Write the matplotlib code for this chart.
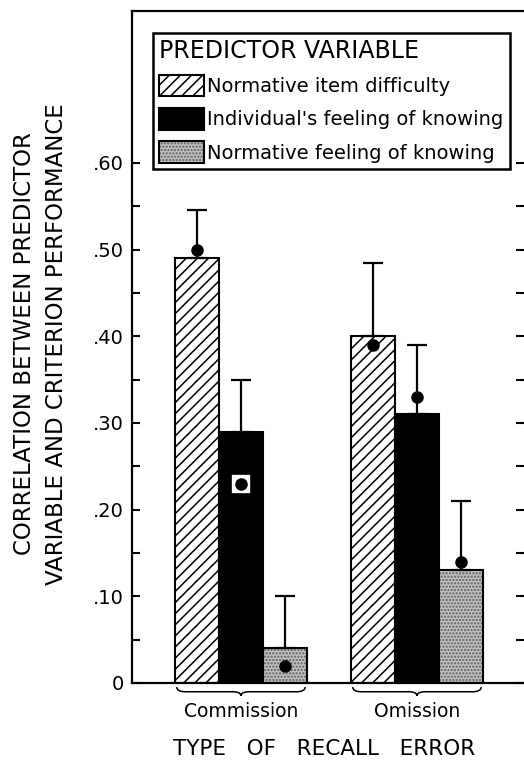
import matplotlib
matplotlib.use("Agg")
import matplotlib.pyplot as plt
import numpy as np
from matplotlib.patches import Patch, PathPatch
from matplotlib.path import Path
from matplotlib.legend_handler import HandlerTuple
from matplotlib.transforms import blended_transform_factory
from matplotlib.ticker import FixedLocator, FixedFormatter

plt.rcParams['font.family'] = ['DejaVu Sans']
plt.rcParams['hatch.linewidth'] = 1.1

# data
categories = ['Commission', 'Omission']
predictors = ['Normative item difficulty', "Individual's feeling of knowing",
              'Normative feeling of knowing']
difficulty = [0.49, 0.40]
individual_fok = [0.29, 0.31]
normative_fok = [0.04, 0.13]
# top of the error bars
difficulty_upper = [0.545, 0.485]
individual_upper = [0.35, 0.39]
normative_upper = [0.10, 0.21]
# dots drawn on each bar
difficulty_dot = [0.50, 0.39]
individual_dot = [0.23, 0.33]
normative_dot = [0.02, 0.14]
ytick_vals = [0, 0.10, 0.20, 0.30, 0.40, 0.50, 0.60]
ytick_labels = ['0', '.10', '.20', '.30', '.40', '.50', '.60']

W, H = 524, 762
fig = plt.figure(figsize=(W / 100, H / 100), dpi=100)
ax = fig.add_axes([132 / W, 1 - 683 / H, (W - 132) / W, (683 - 11) / H])

x = np.arange(len(categories))
bw = 0.25
offsets = [-bw, 0, bw]
grey = '#c2c2c2'

vals = [difficulty, individual_fok, normative_fok]
uppers = [difficulty_upper, individual_upper, normative_upper]
dots = [difficulty_dot, individual_dot, normative_dot]

# bars
ax.bar(x + offsets[0], difficulty, bw, facecolor='white', edgecolor='black',
       hatch='///', linewidth=1.5, zorder=2)
ax.bar(x + offsets[1], individual_fok, bw, facecolor='black', edgecolor='black',
       linewidth=1.5, zorder=2)
# stippled bar: grey dots first, black outline on top
ax.bar(x + offsets[2], normative_fok, bw, facecolor=grey, edgecolor='#5a5a5a',
       hatch='.....', linewidth=0, zorder=2)
ax.bar(x + offsets[2], normative_fok, bw, facecolor='none', edgecolor='black',
       linewidth=1.5, zorder=3)

# one sided error bars and dots
for off, v, up, d in zip(offsets, vals, uppers, dots):
    v = np.array(v)
    up = np.array(up)
    ax.errorbar(x + off, v, yerr=[np.zeros_like(v), up - v], fmt='none',
                ecolor='black', elinewidth=1.6, capsize=7, capthick=1.6, zorder=4)
    for xi, vi, di in zip(x + off, v, d):
        if di < vi - 0.02:
            ax.plot(xi, di, marker='s', ms=15, mfc='white', mec='black',
                    mew=1.2, zorder=5)
        ax.plot(xi, di, marker='o', ms=8, color='black', zorder=6)

ax.set_xlim(-0.619, 1.608)
ax.set_ylim(0, (683 - 11) / 867)

ax.spines['right'].set_visible(False)
for s in ['left', 'top', 'bottom']:
    ax.spines[s].set_linewidth(1.6)

ax.set_xticks([])
ax.yaxis.set_major_locator(FixedLocator(ytick_vals))
ax.yaxis.set_major_formatter(FixedFormatter(ytick_labels))
ax.yaxis.set_minor_locator(FixedLocator(np.array(ytick_vals[:-1]) + 0.05))
ax.tick_params(axis='y', which='both', direction='in', length=6, width=1.5,
               left=True, right=True, labelsize=14, pad=6)

# braces under the groups
trans = blended_transform_factory(ax.transData, ax.transAxes)


def brace(x0, x1, y0=-0.006, ym=-0.013, yt=-0.019, d=0.05):
    xm = (x0 + x1) / 2
    verts = [(x0, y0), (x0, ym), (x0 + d, ym), (xm - d, ym), (xm, ym), (xm, yt),
             (xm, ym), (xm + d, ym), (x1 - d, ym), (x1, ym), (x1, y0)]
    codes = [Path.MOVETO, Path.CURVE3, Path.CURVE3, Path.LINETO, Path.CURVE3,
             Path.CURVE3, Path.CURVE3, Path.CURVE3, Path.LINETO, Path.CURVE3,
             Path.CURVE3]
    ax.add_patch(PathPatch(Path(verts, codes), facecolor='none', edgecolor='black',
                           lw=1.1, transform=trans, clip_on=False))


for xi, cat in zip(x, categories):
    brace(xi - 1.5 * bw + 0.01, xi + 1.5 * bw - 0.01)
    ax.text(xi, -0.043, cat, transform=trans, ha='center', va='center', fontsize=13.5)

ax.text(0.49, -0.098, 'TYPE   OF   RECALL   ERROR', transform=ax.transAxes,
        ha='center', va='center', fontsize=15.5)

fig.text(41 / W, 1 - 344 / H,
         'CORRELATION BETWEEN PREDICTOR\nVARIABLE AND CRITERION PERFORMANCE',
         rotation=90, ha='center', va='center', multialignment='center',
         fontsize=16.5, linespacing=1.5)

# legend
h_diff = Patch(facecolor='white', edgecolor='black', hatch='///', linewidth=1.5)
h_ind = Patch(facecolor='black', edgecolor='black', linewidth=1.5)
h_norm = (Patch(facecolor=grey, edgecolor='#5a5a5a', hatch='.....', linewidth=0),
          Patch(facecolor='none', edgecolor='black', linewidth=1.5))
leg = ax.legend([h_diff, h_ind, h_norm], predictors,
                handler_map={tuple: HandlerTuple(ndivide=1, pad=0)},
                title='PREDICTOR VARIABLE', title_fontsize=17, alignment='left',
                loc='upper left', bbox_to_anchor=(153 / W, 1 - 33 / H),
                bbox_transform=fig.transFigure, borderaxespad=0,
                fontsize=14, handlelength=2.3, handleheight=1.35,
                handletextpad=0.2, labelspacing=0.6, borderpad=0.3,
                fancybox=False, framealpha=1, edgecolor='black')
leg.get_frame().set_linewidth(1.8)

fig.savefig('out.png', dpi=100)
